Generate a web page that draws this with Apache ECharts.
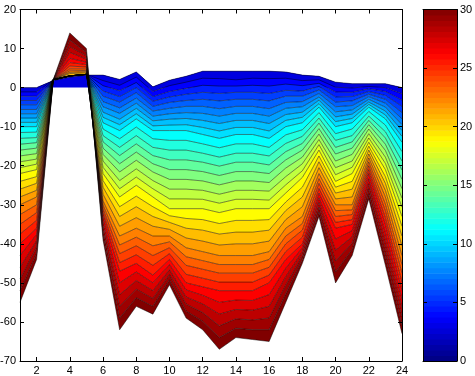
<!DOCTYPE html>
<html>
<head>
<meta charset="utf-8">
<script src="https://cdn.jsdelivr.net/npm/echarts@6/dist/echarts.min.js"></script>
<style>
  html, body { margin: 0; padding: 0; background: #fff; }
  #chart { width: 475px; height: 376px; }
</style>
</head>
<body>
<div id="chart"></div>
<script>
// x positions 1..24
const xCats = ['1','2','3','4','5','6','7','8','9','10','11','12','13','14','15','16','17','18','19','20','21','22','23','24'];

// 31 line values at each x (line 0 first, line 30 last)
const c01 = [0,-1.1,-2.2,-3.3,-4.4,-5.6,-6.7,-7.8,-8.9,-10,-11.5,-13,-14.5,-16,-17.5,-19,-20.5,-22,-24,-26,-28,-30,-32.5,-35,-37.5,-40,-43,-46,-49,-52,-55];
const c02 = [0,-1.1,-2.2,-3.3,-4.4,-5.6,-6.7,-7.8,-8.9,-10,-11.4,-12.8,-14.1,-15.5,-16.9,-18.3,-19.6,-21,-22.8,-24.5,-26.3,-28,-30,-32,-34,-36,-37.6,-39.2,-40.8,-42.4,-44];
const c03 = [1.8,2,2,2,2,2,2,2,2,2,2,2,2,2,2,2,2,2,2,2,2,2,2,2,2,2,2,2,2,2,2];
const c04 = [2.7,3,3,3,3,3,3,3,3,3,3,3,3,3,3,3,3,3,3,3,3.6,3.9,4.3,4.8,5.5,6.4,7.5,9,10.5,12.2,14];
const c05 = [3.2,3.4,3.4,3.4,3.4,3.4,3.4,3.4,3.4,3.4,3.4,3.4,3.4,3.4,3.4,3.4,3.4,3.4,3.4,3.4,3.8,4.1,4.4,4.8,5.3,5.9,6.5,7.3,8.1,9,10];
const c06 = [3.2,1.8,0.5,-0.9,-2.2,-3.6,-4.9,-6.3,-7.6,-9,-10.6,-12.3,-13.9,-15.5,-17.1,-18.8,-20.4,-22,-23.8,-25.5,-27.3,-29,-30,-31,-32,-33,-34.2,-35.4,-36.6,-37.8,-39];
const c07 = [2.1,0.6,-0.8,-2.3,-3.7,-5.2,-6.6,-8.1,-9.5,-11,-13.1,-15.3,-17.4,-19.5,-21.6,-23.8,-25.9,-28,-30.5,-33,-35.5,-38,-40.3,-42.5,-44.8,-47,-50,-53,-56,-59,-62];
const c08 = [4,2.7,1.3,0,-1.3,-2.7,-4,-5.3,-6.7,-8,-10.1,-12.3,-14.4,-16.5,-18.6,-20.8,-22.9,-25,-27.8,-30.5,-33.3,-36,-38.3,-40.5,-42.8,-45,-47.2,-49.4,-51.6,-53.8,-56];
const c09 = [0.2,-1,-2.3,-3.5,-4.8,-6,-7.3,-8.5,-9.8,-11,-13.1,-15.3,-17.4,-19.5,-21.6,-23.8,-25.9,-28,-30.5,-33,-35.5,-38,-40.5,-43,-45.5,-48,-50,-52,-54,-56,-58];
const c10 = [1.9,0.5,-1,-2.4,-3.8,-5.3,-6.7,-8.1,-9.6,-11,-13.5,-16,-18.5,-21,-23.5,-26,-28.5,-31,-32.8,-34.5,-36.3,-38,-39.5,-41,-42.5,-44,-45.3,-46.6,-47.9,-49.2,-50.5];
const c11 = [2.9,1.4,-0.2,-1.7,-3.3,-4.8,-6.4,-7.9,-9.5,-11,-13.5,-16,-18.5,-21,-23.5,-26,-28.5,-31,-33.5,-36,-38.5,-41,-43.3,-45.5,-47.8,-50,-51.8,-53.6,-55.4,-57.2,-59];
const c12 = [4.2,2.4,0.6,-1.2,-3,-4.8,-6.6,-8.4,-10.2,-12,-14.4,-16.8,-19.1,-21.5,-23.9,-26.3,-28.6,-31,-33.8,-36.5,-39.3,-42,-44.3,-46.5,-48.8,-51,-53.2,-55.4,-57.6,-59.8,-62];
const c13 = [4.2,2.3,0.4,-1.5,-3.4,-5.4,-7.3,-9.2,-11.1,-13,-15.4,-17.8,-20.1,-22.5,-24.9,-27.3,-29.6,-32,-34.8,-37.5,-40.3,-43,-45.3,-47.5,-49.8,-52,-55,-58,-61,-64,-67];
const c14 = [4.2,2,0.4,-1.2,-3,-4.8,-6.6,-8.4,-10.2,-12,-14.4,-16.8,-19.1,-21.5,-23.9,-26.3,-28.6,-31,-34,-37,-40,-43,-45.3,-47.5,-49.8,-52,-54.4,-56.8,-59.2,-61.6,-64];
const c15 = [4.2,2.4,0.6,-1.2,-3,-4.8,-6.6,-8.4,-10.2,-12,-14.4,-16.8,-19.1,-21.5,-23.9,-26.3,-28.6,-31,-34,-37,-40,-43,-45.3,-47.5,-49.8,-52,-54.5,-57,-59.5,-62,-64.5];
const c16 = [4.2,2.3,0.4,-1.5,-3.4,-5.4,-7.3,-9.2,-11.1,-13,-15.3,-17.5,-19.8,-22,-24.3,-26.5,-28.8,-31,-33.8,-36.5,-39.3,-42,-44,-46,-48,-50,-53,-56,-59,-62,-65];
const c17 = [4,2.4,0.9,-0.7,-2.2,-3.8,-5.3,-6.9,-8.4,-10,-12.1,-14.3,-16.4,-18.5,-20.6,-22.8,-24.9,-27,-29.3,-31.5,-33.8,-36,-38,-40,-42,-44,-46.2,-48.4,-50.6,-52.8,-55];
const c18 = [3.2,1.8,0.5,-0.9,-2.2,-3.6,-4.9,-6.3,-7.6,-9,-10.8,-12.5,-14.3,-16,-17.8,-19.5,-21.3,-23,-25.5,-28,-30.5,-33,-34.8,-36.5,-38.3,-40,-41,-42,-43,-44,-45];
const c19 = [2.9,2,1.1,0.3,-0.6,-1.5,-2.4,-3.2,-4.1,-5,-6.4,-7.8,-9.1,-10.5,-11.9,-13.3,-14.6,-16,-17.5,-19,-20.5,-22,-23.3,-24.5,-25.8,-27,-28.2,-29.4,-30.6,-31.8,-33];
const c20 = [1.4,0.1,-1.1,-2.4,-3.7,-4.9,-6.2,-7.5,-8.7,-10,-11.8,-13.5,-15.3,-17,-18.8,-20.5,-22.3,-24,-25.5,-27,-28.5,-30,-31.5,-33,-34.5,-36,-38.8,-41.6,-44.4,-47.2,-50];
const c21 = [1,-0.1,-1.2,-2.3,-3.4,-4.6,-5.7,-6.8,-7.9,-9,-10.6,-12.3,-13.9,-15.5,-17.1,-18.8,-20.4,-22,-24,-26,-28,-30,-31.3,-32.5,-33.8,-35,-36.6,-38.2,-39.8,-41.4,-43];
const c22 = [1,0.3,-0.3,-1,-1.7,-2.3,-3,-3.7,-4.3,-5,-6.1,-7.3,-8.4,-9.5,-10.6,-11.8,-12.9,-14,-15,-16,-17,-18,-19,-20,-21,-22,-23.3,-24.6,-25.9,-27.2,-28.5];
const c23 = [1,0,-1,-2,-3,-4,-5,-6,-7,-8,-9.6,-11.3,-12.9,-14.5,-16.1,-17.8,-19.4,-21,-22.8,-24.5,-26.3,-28,-29.8,-31.5,-33.3,-35,-37.1,-39.2,-41.3,-43.4,-45.5];
const c24 = [0,-1.6,-3.2,-4.8,-6.4,-8,-9.5,-11,-12.5,-14,-16.4,-18.8,-21.1,-23.5,-25.9,-28.3,-30.6,-33,-35.5,-38,-40.5,-43,-45.3,-47.5,-49.8,-52,-54.2,-56.4,-58.6,-60.8,-63];

const columns = [c01,c02,c03,c04,c05,c06,c07,c08,c09,c10,c11,c12,c13,c14,c15,c16,c17,c18,c19,c20,c21,c22,c23,c24];

// colour value (0..30 on the colorbar) of the band between line k and line k+1
const bandLevels = [2.8,3.7,4.7,5.6,6.6,7.5,8.4,9.4,10.3,11.3,12.2,13.1,14.1,15,16,16.9,17.8,18.8,19.7,20.7,21.6,22.5,23.5,24.4,25.4,26.3,27.2,28.2,29.1,30];

const cMin = 0, cMax = 30;
const colorbarSteps = 64;
const FONT = 'Liberation Sans, Arial, sans-serif';

function jet(v) {
    const cl = t => Math.max(0, Math.min(1, t));
    const r = cl(1.5 - Math.abs(4 * v - 3));
    const g = cl(1.5 - Math.abs(4 * v - 2));
    const b = cl(1.5 - Math.abs(4 * v - 1));
    return 'rgb(' + Math.round(r * 255) + ',' + Math.round(g * 255) + ',' + Math.round(b * 255) + ')';
}

const nLines = c01.length;
const series = [];
for (let pass = 0; pass < 2; pass++) {
    for (let k = 0; k < nLines; k++) {
        // stacked: first line is absolute, the others are the step to the previous line
        const data = columns.map(col => k === 0 ? col[0] : +(col[k] - col[k - 1]).toFixed(4));
        const level = bandLevels[Math.max(0, k - 1)];
        const s = {
            type: 'line',
            xAxisIndex: 0,
            yAxisIndex: 0,
            stack: pass === 0 ? 'fill' : 'edge',
            stackStrategy: 'all',
            data: data,
            symbol: 'none',
            silent: true,
            z: pass === 0 ? 2 : 3
        };
        if (pass === 0) {
            s.lineStyle = { width: 0 };
            s.areaStyle = { color: jet((level - cMin) / (cMax - cMin)), opacity: 1 };
        } else {
            s.lineStyle = { color: 'rgba(0,0,0,0.8)', width: 0.6 };
        }
        series.push(s);
    }
}

// colorbar
const barData = [];
for (let i = 0; i < colorbarSteps; i++) {
    barData.push([0, cMin + i * (cMax - cMin) / colorbarSteps, cMin + (i + 1) * (cMax - cMin) / colorbarSteps]);
}
series.push({
    type: 'custom',
    xAxisIndex: 2,
    yAxisIndex: 2,
    data: barData,
    encode: { x: 0, y: [1, 2] },
    silent: true,
    renderItem: function (params, api) {
        const lo = api.value(1), hi = api.value(2);
        const p0 = api.coord([0, lo]);
        const p1 = api.coord([1, hi]);
        return {
            type: 'rect',
            shape: { x: p0[0], y: p1[1], width: p1[0] - p0[0], height: p0[1] - p1[1] + 0.5 },
            style: { fill: jet(((lo + hi) / 2 - cMin) / (cMax - cMin)) }
        };
    },
    z: 1
});

const evenOnly = (i, v) => Number(v) % 2 === 0;
const blackLine = { show: true, onZero: false, lineStyle: { color: '#000', width: 1 } };
const tickIn = { show: true, inside: true, length: 4, lineStyle: { color: '#000' } };
const label = { color: '#000', fontSize: 11, fontFamily: FONT };

const chart = echarts.init(document.getElementById('chart'));
chart.setOption({
    animation: false,
    backgroundColor: '#fff',
    grid: [
        { left: 20, right: 73, top: 9.5, bottom: 15, outerBoundsMode: 'none' },
        { left: 423, width: 34, top: 9.5, bottom: 15, outerBoundsMode: 'none' }
    ],
    xAxis: [
        {
            gridIndex: 0, type: 'category', data: xCats, boundaryGap: false, position: 'bottom',
            axisLine: blackLine,
            axisTick: Object.assign({ interval: evenOnly }, tickIn),
            axisLabel: Object.assign({ interval: evenOnly, margin: 4 }, label),
            splitLine: { show: false }, z: 10
        },
        {
            gridIndex: 0, type: 'category', data: xCats, boundaryGap: false, position: 'top',
            axisLine: blackLine,
            axisTick: Object.assign({ interval: evenOnly }, tickIn),
            axisLabel: { show: false },
            splitLine: { show: false }, z: 10
        },
        {
            gridIndex: 1, type: 'value', min: 0, max: 1, position: 'bottom',
            axisLine: blackLine, axisTick: { show: false }, axisLabel: { show: false },
            splitLine: { show: false }, z: 10
        },
        {
            gridIndex: 1, type: 'value', min: 0, max: 1, position: 'top',
            axisLine: blackLine, axisTick: { show: false }, axisLabel: { show: false },
            splitLine: { show: false }, z: 10
        }
    ],
    yAxis: [
        {
            gridIndex: 0, type: 'value', min: -70, max: 20, interval: 10, position: 'left',
            axisLine: blackLine, axisTick: tickIn,
            axisLabel: Object.assign({ margin: 4 }, label),
            splitLine: { show: false }, z: 10
        },
        {
            gridIndex: 0, type: 'value', min: -70, max: 20, interval: 10, position: 'right',
            axisLine: blackLine, axisTick: tickIn, axisLabel: { show: false },
            splitLine: { show: false }, z: 10
        },
        {
            gridIndex: 1, type: 'value', min: cMin, max: cMax, interval: 5, position: 'right',
            axisLine: blackLine, axisTick: tickIn,
            axisLabel: Object.assign({ margin: 3 }, label),
            splitLine: { show: false }, z: 10
        },
        {
            gridIndex: 1, type: 'value', min: cMin, max: cMax, interval: 5, position: 'left',
            axisLine: blackLine, axisTick: tickIn, axisLabel: { show: false },
            splitLine: { show: false }, z: 10
        }
    ],
    series: series
});
</script>
</body>
</html>
